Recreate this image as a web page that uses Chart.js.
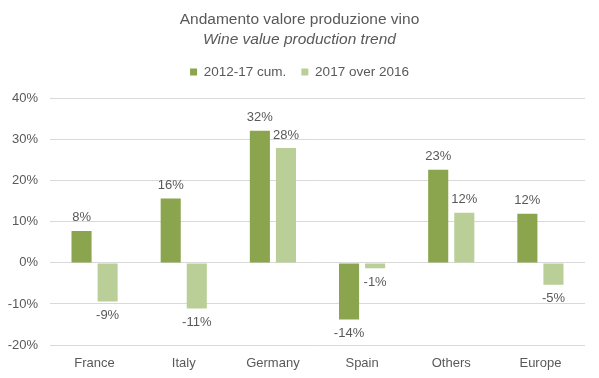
<!DOCTYPE html>
<html>
<head>
<meta charset="utf-8">
<script src="https://cdn.jsdelivr.net/npm/chart.js@4"></script>
<style>
  html, body { margin: 0; padding: 0; background: #fff; }
  #wrap { width: 599px; height: 378px; }
</style>
</head>
<body>
<div id="wrap"><canvas id="wineChart" width="599" height="378"></canvas></div>
<script>
// chart values
const countries = ['France', 'Italy', 'Germany', 'Spain', 'Others', 'Europe'];
const cumulative = [7.8, 15.7, 32.2, -13.8, 22.7, 12.0];
const yearOverYear = [-9.4, -11.1, 28.0, -1.3, 12.2, -5.3];
const seriesNames = ['2012-17 cum.', '2017 over 2016'];
const yTicks = [-20, -10, 0, 10, 20, 30, 40];

const textGray = '#595959';
const fontFamily = '"Liberation Sans", Arial, sans-serif';

// draws the rounded value above positive bars and below negative ones
const valueLabels = {
    id: 'valueLabels',
    afterDatasetsDraw(chart) {
        const ctx = chart.ctx;
        ctx.save();
        ctx.font = '13px ' + fontFamily;
        ctx.fillStyle = textGray;
        ctx.textAlign = 'center';
        ctx.textBaseline = 'middle';
        chart.data.datasets.forEach(function (ds, i) {
            chart.getDatasetMeta(i).data.forEach(function (bar, j) {
                let v = ds.data[j];
                let txt = Math.round(v) + '%';
                let y = v >= 0 ? bar.y - 13 : bar.y + 14;
                ctx.fillText(txt, bar.x, y);
            });
        });
        ctx.restore();
    }
};

// a bit more room between the legend and the plot
const legendGap = {
    id: 'legendGap',
    beforeInit(chart) {
        const origFit = chart.legend.fit;
        chart.legend.fit = function () {
            origFit.bind(chart.legend)();
            this.height += 10;
        };
    }
};

new Chart(document.getElementById('wineChart'), {
    type: 'bar',
    data: {
        labels: countries,
        datasets: [
            {
                label: seriesNames[0],
                data: cumulative,
                backgroundColor: '#8AA54E'
            },
            {
                label: seriesNames[1],
                data: yearOverYear,
                backgroundColor: '#BACF97'
            }
        ]
    },
    options: {
        responsive: false,
        animation: false,
        layout: { padding: { left: 0, right: 0, top: 6, bottom: 0 } },
        datasets: {
            bar: { categoryPercentage: 0.585, barPercentage: 0.77 }
        },
        plugins: {
            title: {
                display: true,
                text: 'Andamento valore produzione vino',
                color: textGray,
                font: { family: fontFamily, size: 15.5, weight: 'normal' },
                padding: { top: 4, bottom: 2 }
            },
            subtitle: {
                display: true,
                text: 'Wine value production trend',
                color: textGray,
                font: { family: fontFamily, size: 15.5, style: 'italic' },
                padding: { top: 0, bottom: 1 }
            },
            legend: {
                labels: {
                    color: textGray,
                    boxWidth: 7,
                    boxHeight: 7,
                    padding: 15,
                    font: { family: fontFamily, size: 13.5 }
                }
            },
            tooltip: { enabled: false }
        },
        scales: {
            x: {
                grid: { display: false, drawTicks: false },
                border: { display: false },
                ticks: { color: textGray, font: { family: fontFamily, size: 13 }, padding: 11 },
                afterFit: function (axis) { axis.height = 33; }
            },
            y: {
                min: -20,
                max: 40,
                afterBuildTicks: function (axis) {
                    axis.ticks = yTicks.map(function (v) { return { value: v }; });
                },
                afterFit: function (axis) { axis.width = 50; },
                grid: { color: '#D9D9D9', drawTicks: false },
                border: { display: false },
                ticks: {
                    color: textGray,
                    padding: 12,
                    font: { family: fontFamily, size: 13 },
                    callback: function (v) { return v + '%'; }
                }
            },
            // empty strip on the right so the plot stops short of the edge
            yRight: {
                position: 'right',
                grid: { display: false },
                border: { display: false },
                ticks: { display: false },
                afterFit: function (axis) { axis.width = 14; }
            }
        }
    },
    plugins: [valueLabels, legendGap]
});
</script>
</body>
</html>
